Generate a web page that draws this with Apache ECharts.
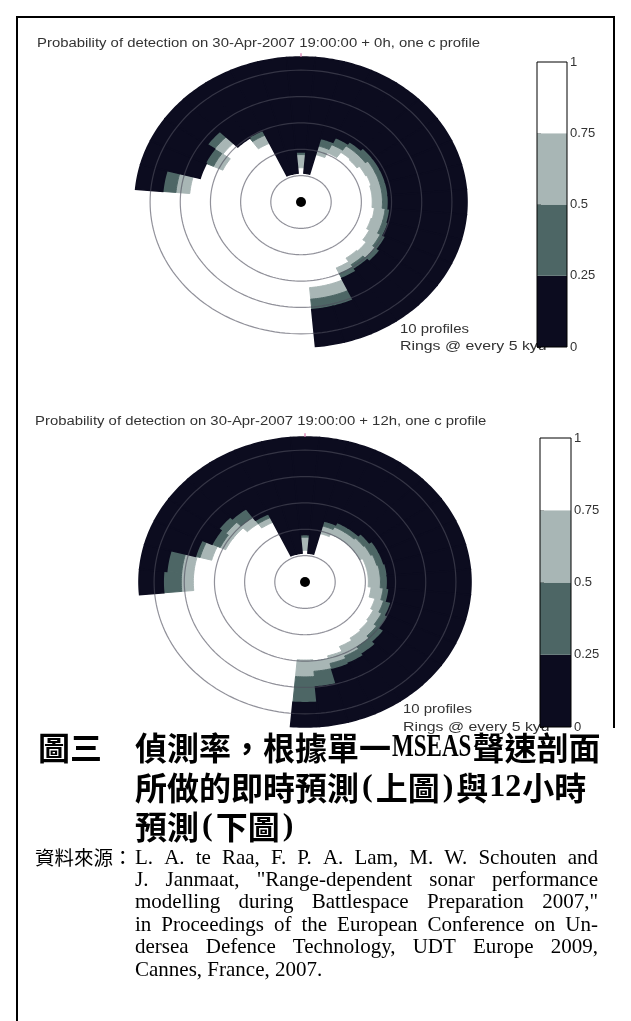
<!DOCTYPE html>
<html><head><meta charset="utf-8">
<script src="https://cdn.jsdelivr.net/npm/echarts@6/dist/echarts.min.js"></script>
<style>html,body{margin:0;padding:0;background:#fff}#c{width:631px;height:1021px}</style>
</head><body><div id="c"></div>
<script>
// ---------------- data ----------------
const R_MAX = 27.5;                 // outer range (kyd)
const RING_RADII = [5, 10, 15, 20, 25];
const BIN = 10;                     // bearing bin width (deg)
const LEVEL_COLORS = ['#0c0c1f', '#4d6665', '#a8b6b5', '#ffffff']; // 0-.25, .25-.5, .5-.75, .75-1
const CB_EDGES = [0, 0.25, 0.5, 0.75, 1];

// top plot (+0h): bearing bin centres and range where each probability band ends
const topAngles   = [280,290,300,310,320,330,340,350,0,10,20,30,40,50,60,70,80,90,100,110,120,130,140,150,160,170];
const topWhiteEnd = [18.5,17.3,14.3,15.8,14.8,12.3,5.5,5.5,6.5,5.5,9.3,10.3,11.5,11.3,11.8,12,11.8,11.8,12.2,12,12.5,13.2,13,13.8,16.3,16.3];
const topLightEnd = [20.8,17.3,16,17.5,14.8,14,5.5,5.5,9,5.5,11,12,13,13,13.5,13.5,13.5,13.5,14,14,14.5,15,14.5,15,18.5,18.5];
const topDarkEnd  = [23,17.3,17.5,19,14.8,15,5.5,5.5,9.5,5.5,12.5,13.5,14,14.5,14.5,14.5,14.5,14.5,14.8,15,15.5,16,15.5,16,20.5,20.5];

// bottom plot (+12h)
const botAngles   = [270,280,290,300,310,320,330,340,350,0,10,20,30,40,50,60,70,80,90,100,110,120,130,140,150,160,170,180];
const botWhiteEnd = [18.5,18.5,16,14.5,14.5,13.5,12.5,5.5,5.5,6,5.5,9.5,10,10,10,10,10.5,10.5,10.5,11,12,12.5,12.8,13,13.5,14.5,15,14.8];
const botLightEnd = [20.5,20.5,18,15.5,16,15,13.5,5.5,5.5,8.5,5.5,11,11.5,11.5,11.8,12,12.3,12.5,12.5,13,13.5,14,14.5,15,15.5,16,17,18];
const botDarkEnd  = [23.5,23,18.8,17,17.5,17,14.3,5.5,5.5,9,5.5,12,12.5,12.5,13,13.5,13.5,13.7,13.7,14,14.8,15.2,16,16.6,17,17.2,20,22.9];

const TITLE_TOP = 'Probability of detection on 30-Apr-2007 19:00:00 + 0h, one c profile';
const TITLE_BOT = 'Probability of detection on 30-Apr-2007 19:00:00 + 12h, one c profile';
const NOTE_1 = '10 profiles';
const NOTE_2 = 'Rings @ every 5 kyd';
const CAPTION_LABEL = '圖三';
const CAPTION_LINES = [
  [['偵測率，根據單一','c'],['MSEAS','l'],['聲速剖面','c']],
  [['所做的即時預測','c'],['(','l'],['上圖','c'],[')','l'],['與','c'],['12','l'],['小時','c']],
  [['預測','c'],['(','l'],['下圖','c'],[')','l']]
];
const SOURCE_LABEL = '資料來源：';
const SOURCE_LINES = [
  'L. A. te Raa, F. P. A. Lam, M. W. Schouten and',
  'J. Janmaat, "Range-dependent sonar performance',
  'modelling during Battlespace Preparation 2007,"',
  'in Proceedings of the European Conference on Un-',
  'dersea Defence Technology, UDT Europe 2009,',
  'Cannes, France, 2007.'
];

// ---------------- helpers ----------------
function buildCells(angles, wEnd, lEnd, dEnd) {
  const cells = [];
  angles.forEach((a, i) => {
    const a0 = a - BIN / 2, a1 = a + BIN / 2;
    cells.push([a0, a1, 0, wEnd[i], 3]);
    if (lEnd[i] > wEnd[i]) cells.push([a0, a1, wEnd[i], lEnd[i], 2]);
    if (dEnd[i] > lEnd[i]) cells.push([a0, a1, lEnd[i], dEnd[i], 1]);
    cells.push([a0, a1, dEnd[i], R_MAX, 0]);
  });
  cells.sort((p, q) => q[4] - p[4]);
  return cells;
}
function pt(api, r, deg) {
  const a = deg * Math.PI / 180;
  return api.coord([r * Math.sin(a), r * Math.cos(a)]);
}
function cellItem(params, api) {
  const a0 = api.value(0), a1 = api.value(1), r0 = api.value(2), r1 = api.value(3);
  const lvl = api.value(4);
  const col = LEVEL_COLORS[lvl];
  const n = Math.max(2, Math.ceil(a1 - a0));
  const pts = [];
  for (let k = 0; k <= n; k++) pts.push(pt(api, r1, a0 + (a1 - a0) * k / n));
  for (let k = n; k >= 0; k--) pts.push(pt(api, r0, a0 + (a1 - a0) * k / n));
  return { type: 'polygon', shape: { points: pts }, style: { fill: col, stroke: col, lineWidth: lvl === 0 ? 1.6 : 1 } };
}
function ringItem(params, api) {
  const r = api.value(0);
  const pts = [];
  for (let d = 0; d <= 360; d += 2) pts.push(pt(api, r, d));
  return { type: 'polyline', shape: { points: pts }, style: { fill: null, stroke: 'rgba(78,78,92,0.62)', lineWidth: 1.2 } };
}
function northItem(params, api) {
  const p1 = pt(api, api.value(0), 0), p2 = pt(api, api.value(0) + 0.7, 0);
  return { type: 'line', shape: { x1: p1[0], y1: p1[1], x2: p2[0], y2: p2[1] }, style: { stroke: '#d77aae', lineWidth: 1.2 } };
}
function cbItem(params, api) {
  const lo = api.value(0), hi = api.value(1);
  const p0 = api.coord([0, lo]), p1 = api.coord([1, hi]);
  const lvl = api.value(2);
  if (lvl < 0) {
    return { type: 'rect', shape: { x: p0[0], y: p1[1], width: p1[0] - p0[0], height: p0[1] - p1[1] },
             style: { fill: null, stroke: '#000', lineWidth: 1 }, z2: 10 };
  }
  return { type: 'rect', shape: { x: p0[0], y: p1[1], width: p1[0] - p0[0], height: p0[1] - p1[1] },
           style: { fill: LEVEL_COLORS[lvl] } };
}
const cbData = CB_EDGES.slice(0, -1).map((e, i) => [e, CB_EDGES[i + 1], i]).concat([[0, 1, -1]]);

// ---------------- layout ----------------
const polarGrids = [
  { left: 135, top: 57, width: 332, height: 290 },
  { left: 139, top: 437, width: 332, height: 290 }
];
const cbGrids = [
  { left: 537, top: 62, width: 30, height: 285 },
  { left: 540, top: 438, width: 31, height: 289 }
];
const grids = [], xAxes = [], yAxes = [], series = [];
const hidden = { show: false };
polarGrids.forEach((g, gi) => {
  grids.push(g);
  const idx = grids.length - 1;
  xAxes.push({ gridIndex: idx, type: 'value', min: -R_MAX, max: R_MAX, show: false });
  yAxes.push({ gridIndex: idx, type: 'value', min: -R_MAX, max: R_MAX, show: false });
  const ax = xAxes.length - 1;
  const cells = gi === 0 ? buildCells(topAngles, topWhiteEnd, topLightEnd, topDarkEnd)
                         : buildCells(botAngles, botWhiteEnd, botLightEnd, botDarkEnd);
  series.push({ type: 'custom', xAxisIndex: ax, yAxisIndex: ax, renderItem: cellItem, data: cells, z: 2, silent: true, animation: false });
  series.push({ type: 'custom', xAxisIndex: ax, yAxisIndex: ax, renderItem: ringItem, data: RING_RADII.map(r => [r, 0]), z: 3, silent: true, animation: false });
  series.push({ type: 'custom', xAxisIndex: ax, yAxisIndex: ax, renderItem: northItem, data: [[R_MAX, 0]], z: 3, silent: true, animation: false });
  series.push({ type: 'scatter', xAxisIndex: ax, yAxisIndex: ax, data: [[0, 0]], symbolSize: 10, itemStyle: { color: '#000', opacity: 1 }, z: 4, silent: true, animation: false });
});
const lab = { fontSize: 13, fontFamily: 'Liberation Sans', color: '#333', margin: 3 };
cbGrids.forEach((g) => {
  grids.push(g);
  const idx = grids.length - 1;
  xAxes.push({ gridIndex: idx, type: 'value', min: 0, max: 1, show: false });
  yAxes.push({ gridIndex: idx, type: 'value', min: 0, max: 1, interval: 0.25, position: 'right',
    axisLine: { show: false },
    axisTick: { show: true, length: 4, lineStyle: { color: '#222' } },
    axisLabel: lab, splitLine: hidden });
  series.push({ type: 'custom', xAxisIndex: xAxes.length - 1, yAxisIndex: yAxes.length - 1, renderItem: cbItem, data: cbData, z: 2, silent: true, animation: false });
});

// ---------------- text ----------------
const ctx = document.createElement('canvas').getContext('2d');
function w(text, font) { ctx.font = font; return ctx.measureText(text).width; }
const graphics = [];
function txt(text, x, y, font, fill, scaleX, z) {
  graphics.push({ type: 'text', x: x, y: y, scaleX: scaleX || 1, z: z === undefined ? 1 : z, silent: true,
    style: { text: text, font: font, fill: fill, textAlign: 'left', textVerticalAlign: 'middle' } });
}
const SMALL = '12.5px "Liberation Sans"';
const tScale = 443 / w(TITLE_TOP, SMALL);
txt(TITLE_TOP, 37, 44, SMALL, '#333', tScale);
txt(TITLE_BOT, 35, 422, SMALL, '#333', tScale);
const NOTE = '13px "Liberation Sans"';
txt(NOTE_1, 400, 329, NOTE, '#333', 1.15, 0);
txt(NOTE_2, 400, 346, NOTE, '#333', 1.22, 0);
txt(NOTE_1, 403, 709, NOTE, '#333', 1.15, 0);
txt(NOTE_2, 403, 727, NOTE, '#333', 1.22, 0);

const CJK = 'bold 32px "Noto Sans CJK TC"';
const LAT = 'bold 32px "Liberation Serif"';
const capY = [748, 788, 827];
txt(CAPTION_LABEL, 38, capY[0], CJK, '#000');
CAPTION_LINES.forEach((runs, li) => {
  let x = 135;
  runs.forEach(([t, kind]) => {
    if (kind === 'c') { txt(t, x, capY[li], CJK, '#000'); x += w(t, CJK); }
    else {
      const sx = t.length > 2 ? 0.72 : 1;
      const pad = t.length === 1 ? 3 : 1;
      txt(t, x + pad, capY[li], LAT, '#000', sx); x += w(t, LAT) * sx + 2 * pad;
    }
  });
});
const SRC_CJK = '19.5px "Noto Sans CJK TC"';
const SERIF = '21px "Liberation Serif"';
txt(SOURCE_LABEL, 35, 858, SRC_CJK, '#000');
const SRC_X = 135, SRC_W = 463, SRC_Y0 = 858, SRC_DY = 22.4;
SOURCE_LINES.forEach((line, li) => {
  const y = SRC_Y0 + li * SRC_DY;
  if (li === SOURCE_LINES.length - 1) { txt(line, SRC_X, y, SERIF, '#000'); return; }
  const words = line.split(' ');
  const widths = words.map(s => w(s, SERIF));
  const gap = (SRC_W - widths.reduce((a, b) => a + b, 0)) / (words.length - 1);
  let x = SRC_X;
  words.forEach((s, k) => { txt(s, x, y, SERIF, '#000'); x += widths[k] + gap; });
});
// figure frame
graphics.push({ type: 'polyline', silent: true, shape: { points: [[17, 1021], [17, 17], [614, 17], [614, 728]] }, style: { stroke: '#000', lineWidth: 2, fill: null } });

const chart = echarts.init(document.getElementById('c'));
chart.setOption({
  backgroundColor: '#fff', animation: false,
  grid: grids, xAxis: xAxes, yAxis: yAxes, series: series,
  graphic: { elements: graphics }
});
</script></body></html>
